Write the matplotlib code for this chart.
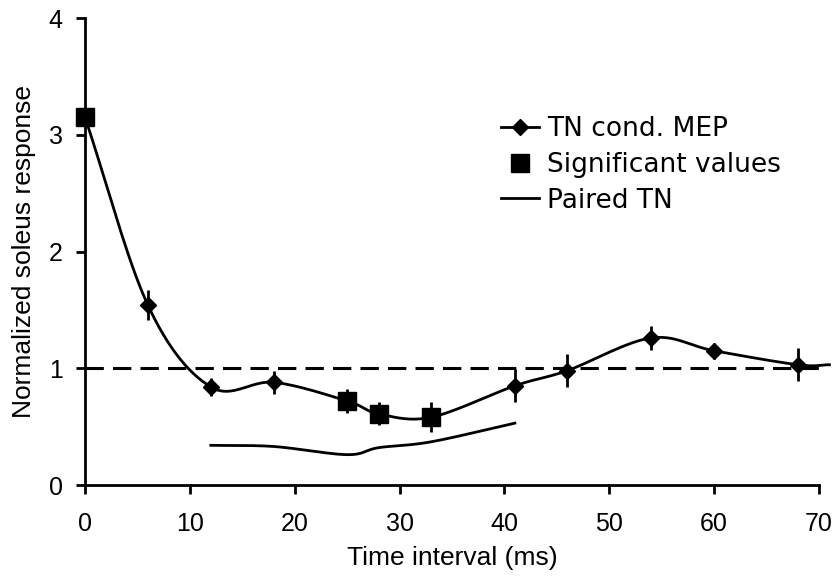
import numpy as np
import matplotlib
matplotlib.use('Agg')
import matplotlib.pyplot as plt
from matplotlib.lines import Line2D

# TN conditioned MEP (normalized)
mep_x = [0, 6, 12, 18, 25, 28, 33, 41, 46, 54, 60, 68]
mep_y = [3.15, 1.54, 0.84, 0.88, 0.72, 0.61, 0.58, 0.85, 0.98, 1.26, 1.15, 1.03]
mep_err = [0.0, 0.13, 0.08, 0.10, 0.10, 0.10, 0.13, 0.14, 0.14, 0.10, 0.07, 0.14]
# the trace runs on a little past the last point
tail_x = [71]
tail_y = [1.03]

# significant points
sig_x = [0, 25, 28, 33]
sig_y = [3.15, 0.72, 0.61, 0.58]

# paired TN
pair_x = [12, 18, 25, 28, 33, 41]
pair_y = [0.34, 0.33, 0.26, 0.32, 0.37, 0.53]


def smooth(xs, ys, n=30):
    # catmull-rom curve through the points (like excel smoothed lines)
    p = np.column_stack([xs, ys]).astype(float)
    p = np.vstack([2 * p[0] - p[1], p, 2 * p[-1] - p[-2]])
    out = []
    t = np.linspace(0, 1, n)[:, None]
    for i in range(1, len(p) - 2):
        p0, p1, p2, p3 = p[i - 1], p[i], p[i + 1], p[i + 2]
        seg = 0.5 * ((2 * p1) + (-p0 + p2) * t + (2 * p0 - 5 * p1 + 4 * p2 - p3) * t ** 2
                     + (-p0 + 3 * p1 - 3 * p2 + p3) * t ** 3)
        out.append(seg)
    out = np.vstack(out)
    return out[:, 0], out[:, 1]


fig = plt.figure(figsize=(8.35, 5.77), dpi=100)
ax = fig.add_axes([0.1018, 0.1594, 0.879, 0.8094])

ax.axhline(1, color='k', lw=2.2, ls=(0, (6, 3)), zorder=1)

sx, sy = smooth(mep_x + tail_x, mep_y + tail_y)
ax.plot(sx, sy, color='k', lw=2, clip_on=False, zorder=2)
ax.errorbar(mep_x, mep_y, yerr=mep_err, fmt='none', ecolor='k', elinewidth=2, capsize=0, zorder=3)
ax.plot(mep_x, mep_y, ls='none', marker='D', ms=8.5, color='k', zorder=4)
ax.plot(sig_x, sig_y, ls='none', marker='s', ms=13, color='k', clip_on=False, zorder=5)

px, py = smooth(pair_x, pair_y)
ax.plot(px, py, color='k', lw=2, zorder=2)

ax.set_xlim(0, 70)
ax.set_ylim(0, 4)
ax.set_xticks(range(0, 71, 10))
ax.set_yticks(range(0, 5))
for s in ['top', 'right']:
    ax.spines[s].set_visible(False)
for s in ['left', 'bottom']:
    ax.spines[s].set_linewidth(2)
ax.tick_params(direction='out', length=6.5, width=2, labelsize=18)
ax.tick_params(axis='x', pad=13)
ax.tick_params(axis='y', pad=9.5)
for lab in ax.get_xticklabels() + ax.get_yticklabels():
    lab.set_family('Liberation Sans')
ax.set_xlabel('Time interval (ms)', fontsize=19, family='Liberation Sans', labelpad=7)
ax.set_ylabel('Normalized soleus response', fontsize=19, family='Liberation Sans', labelpad=9)

handles = [
    Line2D([], [], color='k', lw=2, marker='D', ms=8.5),
    Line2D([], [], ls='none', marker='s', ms=13, color='k'),
    Line2D([], [], color='k', lw=2),
]
ax.legend(handles, ['TN cond. MEP', 'Significant values', 'Paired TN'],
          loc='upper left', bbox_to_anchor=(0.5346, 0.841), frameon=False,
          prop={'family': 'DejaVu Sans', 'size': 19},
          handlelength=1.44, handletextpad=0.3, labelspacing=0.37)

fig.savefig('out.png', dpi=100)
